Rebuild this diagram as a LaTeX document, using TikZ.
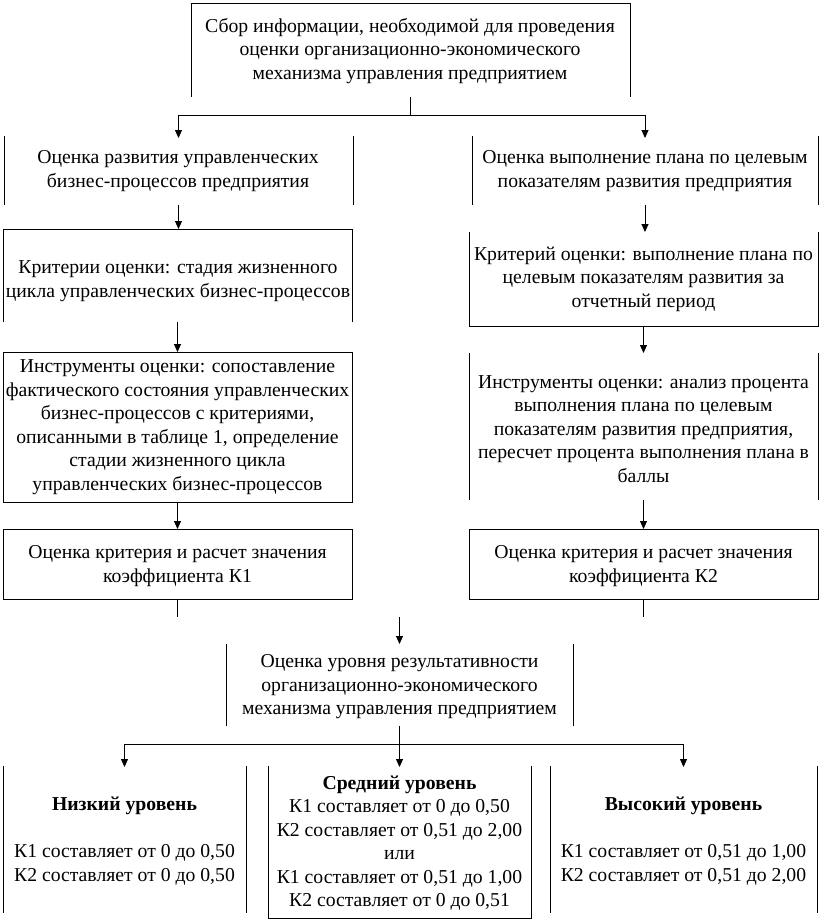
\documentclass[tikz,border=0pt]{standalone}
\usepackage{fontspec}
\setmainfont{Liberation Serif}
\usetikzlibrary{arrows.meta}
\tikzset{
  area/.style={inner sep=0pt, outer sep=0pt},
  txt/.style={align=center, inner sep=0pt, font=\fontsize{19.7}{23.5}\selectfont},
  edge/.style={line width=0.9pt},
  arr/.style={edge, -{Triangle[width=7pt,length=8pt]}}
}
\begin{document}
\begin{tikzpicture}[x=1pt,y=-1pt]
\useasboundingbox[fill=white] (0,0) rectangle (820,919);
% box areas
\node[area, minimum width=439pt, minimum height=94pt] (b1) at (410.5,50) {};
\node[area, minimum width=349pt, minimum height=69pt] (b2L) at (178.5,170.5) {};
\node[area, minimum width=346pt, minimum height=69pt] (b2R) at (645,170.5) {};
\node[area, minimum width=349pt, minimum height=93pt] (b3L) at (177.5,275.5) {};
\node[area, minimum width=349pt, minimum height=94pt] (b3R) at (643.5,279) {};
\node[area, minimum width=349pt, minimum height=150pt] (b4L) at (177.5,427) {};
\node[area, minimum width=349pt, minimum height=147pt] (b4R) at (643.5,426.5) {};
\node[area, minimum width=349pt, minimum height=70pt] (b5L) at (177.5,564) {};
\node[area, minimum width=349pt, minimum height=70pt] (b5R) at (643.5,564) {};
\node[area, minimum width=347pt, minimum height=82pt] (b6) at (399.5,685) {};
\node[area, minimum width=243pt, minimum height=147pt] (b7L) at (124.5,839.5) {};
\node[area, minimum width=263pt, minimum height=152pt] (b7M) at (399.5,842) {};
\node[area, minimum width=267pt, minimum height=147pt] (b7R) at (683.5,839.5) {};
% texts
\node[txt] (t1) at (410,51) {Сбор информации, необходимой для проведения\\оценки организационно-экономического\\механизма управления предприятием};
\node[txt] (t2L) at (178,171) {Оценка развития управленческих\\бизнес-процессов предприятия};
\node[txt] (t2R) at (645,171) {Оценка выполнение плана по целевым\\показателям развития предприятия};
\node[txt] (t3L) at (178,281) {Критерии оценки: стадия жизненного\\цикла управленческих бизнес-процессов};
\node[txt] (t3R) at (643.5,279) {Критерий оценки: выполнение плана по\\целевым показателям развития за\\отчетный период};
\node[txt] (t4L) at (177.5,427) {Инструменты оценки: сопоставление\\фактического состояния управленческих\\бизнес-процессов с критериями,\\описанными в таблице 1, определение\\стадии жизненного цикла\\управленческих бизнес-процессов};
\node[txt] (t4R) at (643.5,429) {Инструменты оценки: анализ процента\\выполнения плана по целевым\\показателям развития предприятия,\\пересчет процента выполнения плана в\\баллы};
\node[txt] (t5L) at (177.5,566) {Оценка критерия и расчет значения\\коэффициента К1};
\node[txt] (t5R) at (643.5,566) {Оценка критерия и расчет значения\\коэффициента К2};
\node[txt] (t6) at (399.5,687) {Оценка уровня результативности\\организационно-экономического\\механизма управления предприятием};
\node[txt] (t7L) at (124.5,841) {\textbf{Низкий уровень}\\\strut\\К1 составляет от 0 до 0,50\\К2 составляет от 0 до 0,50};
\node[txt] (t7M) at (399.5,843) {\textbf{Средний уровень}\\К1 составляет от 0 до 0,50\\К2 составляет от 0,51 до 2,00\\или\\К1 составляет от 0,51 до 1,00\\К2 составляет от 0 до 0,51};
\node[txt] (t7R) at (683.5,841) {\textbf{Высокий уровень}\\\strut\\К1 составляет от 0,51 до 1,00\\К2 составляет от 0,51 до 2,00};
% visible frame edges
\draw[edge] (b1.south west) -- (b1.north west) -- (b1.north east) -- (b1.south east);
\draw[edge] (b2L.north west) -- (b2L.south west) (b2L.north east) -- (b2L.south east);
\draw[edge] (b2R.north west) -- (b2R.south west) (b2R.north east) -- (b2R.south east);
\draw[edge] (b3L.south west) -- (b3L.north west) -- (b3L.north east) -- (b3L.south east);
\draw[edge] (b3R.north west) -- (b3R.south west) -- (b3R.south east) -- (b3R.north east);
\draw[edge] (b4L.north west) rectangle (b4L.south east);
\draw[edge] (b4R.north west) -- (b4R.south west) (b4R.north east) -- (b4R.south east);
\draw[edge] (b5L.north west) rectangle (b5L.south east);
\draw[edge] (b5R.north west) rectangle (b5R.south east);
\draw[edge] (b6.north west) -- (b6.south west) (b6.north east) -- (b6.south east);
\draw[edge] (b7L.north west) -- (b7L.south west) (b7L.north east) -- (b7L.south east);
\draw[edge] (b7M.north west) -- (b7M.south west) -- (b7M.south east) -- (b7M.north east);
\draw[edge] (b7R.north west) -- (b7R.south west) (b7R.north east) -- (b7R.south east);
% connectors
\coordinate (j1) at (410.5,115);
\draw[edge] (b1.south) -- (j1);
\draw[arr] (j1) -| ([yshift=-2pt]b2L.north);
\draw[arr] (j1) -| ([yshift=-2pt]b2R.north);
\draw[arr] (b2L.south) -- (b2L.south |- b3L.north);
\draw[arr] (b2R.south) -- (b2R.south |- b3R.north);
\draw[arr] (b3L.south) -- (b4L.north);
\draw[arr] (b3R.south) -- (b4R.north);
\draw[arr] (b4L.south) -- (b5L.north);
\draw[arr] (b4R.south) -- (b5R.north);
\coordinate (e5L) at (177.5,617);
\coordinate (e5R) at (643.5,617);
\coordinate (c6) at (399.5,617);
\draw[edge] (b5L.south) -- (e5L);
\draw[edge] (b5R.south) -- (e5R);
\draw[arr] (c6) -- (b6.north);
\coordinate (j2) at (399.5,744);
\draw[edge] (b6.south) -- (j2);
\draw[arr] (j2) -| ([yshift=-1pt]b7L.north);
\draw[arr] (j2) -- ([yshift=-1pt]b7M.north);
\draw[arr] (j2) -| ([yshift=-1pt]b7R.north);
\end{tikzpicture}
\end{document}
